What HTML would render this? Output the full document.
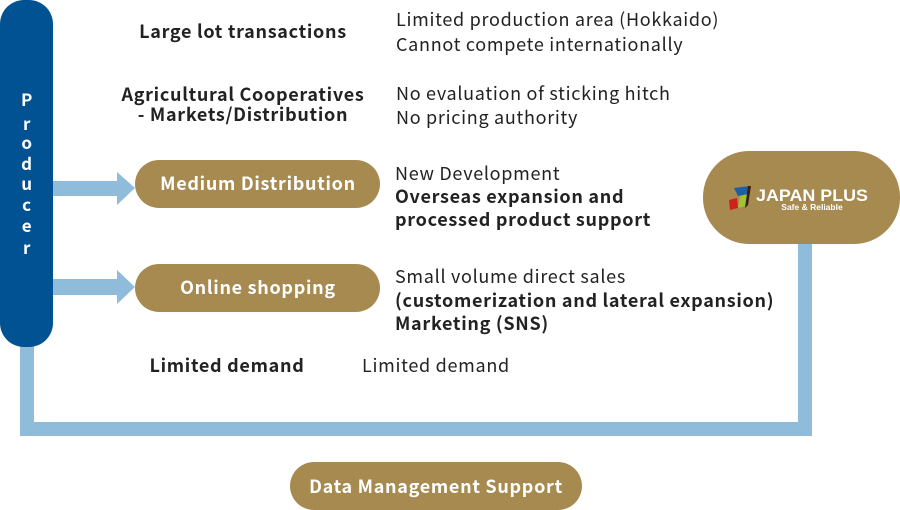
<!DOCTYPE html>
<html><head><meta charset="utf-8"><style>
html,body{margin:0;padding:0;background:#fff;}
svg{display:block;}
text{font-family:"Noto Sans CJK JP","Liberation Sans",sans-serif;letter-spacing:0.7px;}
</style></head><body>
<svg width="900" height="510" viewBox="0 0 900 510" xmlns="http://www.w3.org/2000/svg">
<path d="M27 330 V429 H805 V230" fill="none" stroke="#8fbcdb" stroke-width="14"/>
<rect x="0" y="0" width="53" height="347" rx="24" fill="#005293"/>
<g fill="#fff" font-size="17" font-weight="bold" text-anchor="middle">
<text x="27" y="106">P</text><text x="27" y="130">r</text><text x="27" y="149">o</text>
<text x="27" y="170">d</text><text x="27" y="190">u</text><text x="27" y="211">c</text>
<text x="27" y="232">e</text><text x="27" y="254">r</text>
</g>
<path d="M53 181 H117 V172 L135 188 L117 205 V196 H53 Z" fill="#8fbcdb"/>
<path d="M53 279 H117 V270 L135 287 L117 304 V295 H53 Z" fill="#8fbcdb"/>
<rect x="135" y="160" width="245" height="48" rx="24" fill="#a68a50"/>
<rect x="135" y="264" width="245" height="48" rx="24" fill="#a68a50"/>
<rect x="290" y="462" width="292" height="48" rx="24" fill="#a68a50"/>
<rect x="703" y="151" width="197" height="93" rx="46" fill="#a68a50"/>
<g fill="#fff" font-size="18" font-weight="bold" text-anchor="middle">
<text x="258" y="190">Medium Distribution</text>
<text x="258" y="294">Online shopping</text>
<text x="436" y="493">Data Management Support</text>
</g>
<polygon points="734,188 750,186 748,194 738,196" fill="#1c5fa8"/>
<polygon points="740,196 748,194 746,206 738,208" fill="#9fc431"/>
<polygon points="729,200 737,198 738,208 730,210" fill="#d0201c"/>
<polygon points="748,186 751,186 748,205 745,208" fill="#3a1f10"/>
<text x="756" y="201" fill="#fff" font-size="17" font-weight="bold" textLength="112" lengthAdjust="spacingAndGlyphs" style="font-family:'Liberation Sans',sans-serif;letter-spacing:0">JAPAN PLUS</text>
<text x="812" y="210" fill="#fff" font-size="8.5" font-weight="bold" text-anchor="middle" style="font-family:'Liberation Sans',sans-serif;letter-spacing:0">Safe &amp; Reliable</text>
<g fill="#222" font-size="18" font-weight="bold" text-anchor="middle">
<text x="243" y="38">Large lot transactions</text>
<text x="243" y="101">Agricultural Cooperatives</text>
<text x="243" y="121">- Markets/Distribution</text>
<text x="227" y="372">Limited demand</text>
</g>
<g fill="#222" font-size="18">
<text x="396" y="26">Limited production area (Hokkaido)</text>
<text x="396" y="51">Cannot compete internationally</text>
<text x="396" y="100">No evaluation of sticking hitch</text>
<text x="396" y="124">No pricing authority</text>
<text x="395" y="180">New Development</text>
<text x="395" y="203" font-weight="bold">Overseas expansion and</text>
<text x="395" y="226" font-weight="bold">processed product support</text>
<text x="395" y="283">Small volume direct sales</text>
<text x="395" y="307" font-weight="bold">(customerization and lateral expansion)</text>
<text x="395" y="330" font-weight="bold">Marketing (SNS)</text>
<text x="362" y="372">Limited demand</text>
</g>
</svg>
</body></html>
